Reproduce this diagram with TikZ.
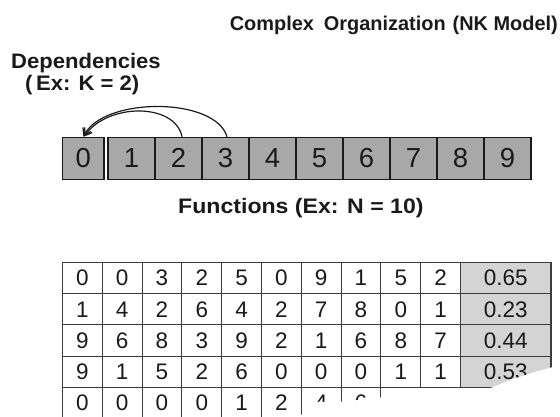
\documentclass[tikz,border=0pt]{standalone}
\usepackage{fontspec}
\setmainfont{Liberation Sans}
\usetikzlibrary{arrows.meta}
\definecolor{boxgray}{HTML}{A8A8A8}
\definecolor{fitgray}{HTML}{D4D4D4}
\definecolor{ink}{HTML}{1A1A1A}
\begin{document}
\begin{tikzpicture}[x=1pt,y=-1pt,
  heading/.style={inner sep=0pt, text=ink, font=\bfseries\fontsize{21}{24}\selectfont},
  locus/.style={draw=ink, line width=1.3pt, fill=boxgray, minimum height=42pt,
    inner sep=0pt, text=ink, font=\fontsize{27.5}{30}\selectfont},
  cell/.style={draw=ink!85, line width=1.1pt, minimum width=39.8pt, minimum height=31.2pt,
    inner sep=0pt, text=ink, font=\fontsize{22.5}{26}\selectfont},
  fitcell/.style={cell, minimum width=90.5pt, fill=fitgray},
  dep/.style={draw=ink, line width=1.2pt,
    -{Straight Barb[length=7pt,width=9pt,line width=1.2pt]}}
]
\useasboundingbox (0,0) rectangle (560,416);
\clip (0,0) rectangle (560,416);
\fill[white] (0,0) rectangle (560,416);

% headings
\node[heading, anchor=base east] (title) at (558,30)
  {\resizebox{328pt}{!}{Complex\hspace{0.5em}Organization\hspace{0.35em}(NK Model)}};
\node[heading, anchor=base west] (deps) at (11,68.5)
  {\scalebox{1.05}[1]{Dependencies}};
\node[heading, anchor=base west] (kval) at (25,90)
  {\scalebox{1.05}[1]{(\,Ex: K = 2)}};
\node[heading, anchor=base west] (funcs) at (178,213)
  {\scalebox{1.1}[1]{Functions (Ex: N = 10)}};

% the N loci
\node[locus, minimum width=41.3pt] (b0) at (83.35,158.3) {0};
\foreach \k in {1,...,9}
  \node[locus, minimum width=47pt] (b\k) at ({131.5+47*(\k-1)},158.3) {\k};

% K dependencies of locus 0
\draw[dep] ([xshift=1.5pt]b3.north) .. controls +(-12,-40) and +(20,-40) .. (b0.north);
\draw[dep] ([xshift=3.5pt]b2.north) .. controls +(-7,-34) and +(24,-34) .. ([xshift=0.5pt]b0.north);

% fitness contribution table
\foreach [count=\i from 0] \row in {
  {0,0,3,2,5,0,9,1,5,2,0.65},
  {1,4,2,6,4,2,7,8,0,1,0.23},
  {9,6,8,3,9,2,1,6,8,7,0.44},
  {9,1,5,2,6,0,0,0,1,1,0.53}} {
  \foreach [count=\j from 0] \v in \row {
    \ifnum\j<10
      \node[cell] (c\i-\j) at ({82.4+39.8*\j},{278.1+31.2*\i}) {\v};
    \else
      \node[fitcell] (c\i-\j) at (505.75,{278.1+31.2*\i}) {\v};
    \fi
  }
}
\foreach [count=\j from 0] \v in {0,0,0,0,1,2,4,6}
  \node[cell] (c4-\j) at ({82.4+39.8*\j},402.9) {\v};

% torn lower corner of the sheet
\fill[white] (561,352) -- (553,367) -- (535,372) -- (510,380) -- (487,389.5)
  -- (450,391.5) -- (400,393.5) -- (380,397.5) -- (345,401.5) -- (315,402)
  -- (304,411) -- (300,417) -- (561,417) -- cycle;
\end{tikzpicture}
\end{document}
